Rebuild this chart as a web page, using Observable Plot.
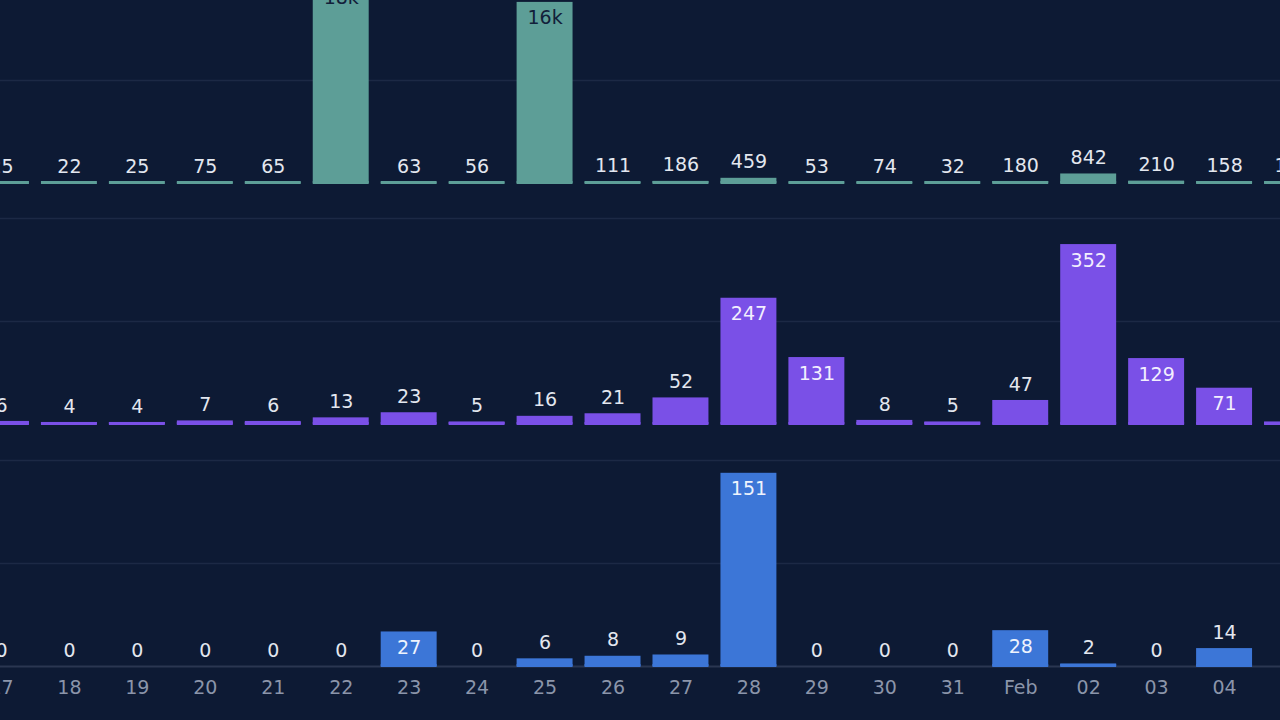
<!DOCTYPE html>
<html><head><meta charset="utf-8">
<script src="https://cdn.jsdelivr.net/npm/d3@7"></script>
<script src="https://cdn.jsdelivr.net/npm/@observablehq/plot@0.6"></script>
<style>
html,body{margin:0;padding:0;background:#0d1a34;overflow:hidden}
#chart{position:relative;width:1280px;height:720px;overflow:hidden;background:#0d1a34}
#chart svg{position:absolute;left:-33px;max-width:none !important;height:auto}
</style></head><body><div id="chart"></div>
<script>
// Day tick labels (Jan 17 .. Feb 05)
const dayLabels = ["17","18","19","20","21","22","23","24","25","26","27","28","29","30","31","Feb","02","03","04","05"];
// Series values per panel
const seriesTeal   = [25,22,25,75,65,17800,63,56,16000,111,186,459,53,74,32,180,842,210,158,105];
const seriesPurple = [6,4,4,7,6,13,23,5,16,21,52,247,131,8,5,47,352,129,71,5];
const seriesBlue   = [0,0,0,0,0,0,27,0,6,8,9,151,0,0,0,28,2,0,14,0];

const GRID = "#1c2945", LIGHT = "#e3e7ef", AXIS = "#8b95aa";
const fmt = v => v >= 1000 ? Math.round(v / 1000) + "k" : String(v);
const INNER = 206, PANEL_H = 241, W = 1359;

const panels = [
  {values: seriesTeal,   color: "#5d9e97", inside: "#12203a", max: 18200, top: -58, axis: false},
  {values: seriesPurple, color: "#7a50e7", inside: "#f2eefe", max: 403,   top: 183, axis: false},
  {values: seriesBlue,   color: "#3c76d7", inside: "#eef3fd", max: 161,   top: 425, axis: true}
];

const root = document.getElementById("chart");
for (const p of panels) {
  const rows = dayLabels.map((d, i) => ({day: d, value: p.values[i]}));
  const isInside = r => r.value / p.max * INNER >= 30;
  const marks = [
    Plot.ruleY([p.max / 2, p.max], {stroke: GRID, strokeWidth: 1.5}),
  ];
  if (p.axis) marks.push(Plot.ruleY([0], {stroke: "#2a3651", strokeWidth: 2}));
  marks.push(
    Plot.barY(rows, {x: "day", y: "value", fill: p.color, insetLeft: 6, insetRight: 6}),
    Plot.tickY(rows.filter(r => r.value > 0), {x: "day", y: 0, stroke: p.color, strokeWidth: 3, dy: -1, insetLeft: 6, insetRight: 6}),
    Plot.text(rows.filter(r => !isInside(r)), {x: "day", y: "value", text: r => fmt(r.value), dy: -16, fill: LIGHT}),
    Plot.text(rows.filter(isInside), {x: "day", y: "value", text: r => fmt(r.value), dy: 16, fill: p.inside})
  );
  if (p.axis) marks.push(Plot.axisX({tickSize: 0, tickPadding: 14, fill: AXIS, label: null}));
  const h = p.axis ? PANEL_H + 54 : PANEL_H;
  const svg = Plot.plot({
    width: W,
    height: h,
    marginTop: PANEL_H - INNER,
    marginBottom: p.axis ? 54 : 0,
    marginLeft: 0,
    marginRight: 0,
    style: {background: "transparent", fontFamily: "'DejaVu Sans', sans-serif", fontSize: "19px", color: LIGHT, overflow: "visible"},
    x: {type: "band", domain: dayLabels, padding: 0, round: false, axis: null, label: null},
    y: {domain: [0, p.max], axis: null},
    marks
  });
  svg.style.top = p.top + "px";
  svg.style.width = W + "px";
  svg.style.height = h + "px";
  root.appendChild(svg);
}
</script>
</body></html>
